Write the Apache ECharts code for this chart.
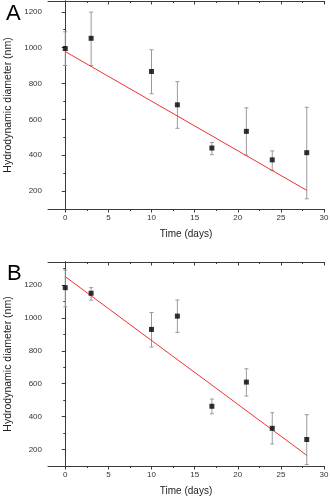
<!DOCTYPE html>
<html><head><meta charset="utf-8">
<script src="https://cdn.jsdelivr.net/npm/echarts@6/dist/echarts.min.js"></script>
<style>html,body{margin:0;padding:0;background:#fff}#c{width:330px;height:499px}</style>
</head><body><div id="c"></div>
<script>
// Data
var days = [0, 3, 10, 13, 17, 21, 24, 28];
var meanA = [995, 1052, 867, 681, 440, 533, 374, 414];
var lowA  = [900, 900, 743, 550, 403, 400, 315, 157];
var highA = [1088, 1198, 988, 810, 471, 664, 424, 667];
var fitA  = [[0, 978], [28, 204]];

var meanB = [1184, 1150, 930, 1011, 463, 610, 329, 261];
var lowB  = [1068, 1108, 823, 912, 417, 525, 234, 109];
var highB = [1291, 1184, 1033, 1109, 507, 691, 424, 412];
var fitB  = [[0, 1251], [28, 165]];

var xMajor = [0, 5, 10, 15, 20, 25, 30];
var xMinor = [2.5, 7.5, 12.5, 17.5, 22.5, 27.5];
var yMajor = [200, 400, 600, 800, 1000, 1200];
var yMinorA = [100, 300, 500, 700, 900, 1100];
var yMinorB = [100, 300, 500, 700, 900, 1100, 1300];

var FONT = 'Liberation Sans, Arial, sans-serif';
var AX = '#3a3a3a';
function plain(v) { return String(v); }

var chart = echarts.init(document.getElementById('c'));

function xAxes(grid, min, max) {
  var base = {gridIndex: grid, type: 'value', min: min, max: max, splitLine: {show: false}};
  return [
    Object.assign({}, base, {position: 'bottom',
      name: 'Time (days)', nameLocation: 'middle', nameGap: 20,
      nameTextStyle: {fontFamily: FONT, fontSize: 10, color: '#222'},
      axisLine: {show: true, lineStyle: {color: AX, width: 1}},
      axisTick: {show: true, inside: false, length: 3.5, customValues: xMajor, lineStyle: {color: AX}},
      axisLabel: {show: true, customValues: xMajor, margin: 5, formatter: plain, fontFamily: FONT, fontSize: 8, color: '#333'}}),
    Object.assign({}, base, {position: 'bottom',
      axisLine: {show: false},
      axisTick: {show: true, inside: false, length: 2, customValues: xMinor, lineStyle: {color: AX}},
      axisLabel: {show: false}}),
    Object.assign({}, base, {position: 'top',
      axisLine: {show: true, lineStyle: {color: AX, width: 1}},
      axisTick: {show: true, inside: true, length: 3.5, customValues: xMajor, lineStyle: {color: AX}},
      axisLabel: {show: false}}),
    Object.assign({}, base, {position: 'top',
      axisLine: {show: false},
      axisTick: {show: true, inside: true, length: 2, customValues: xMinor, lineStyle: {color: AX}},
      axisLabel: {show: false}})
  ];
}
function yAxes(grid, min, max, minor) {
  var base = {gridIndex: grid, type: 'value', min: min, max: max, splitLine: {show: false}};
  return [
    Object.assign({}, base, {position: 'left',
      name: 'Hydrodynamic diameter (nm)', nameLocation: 'middle', nameGap: 28, nameRotate: 90,
      nameTextStyle: {fontFamily: FONT, fontSize: 10.5, color: '#222'},
      axisLine: {show: true, lineStyle: {color: AX, width: 1}},
      axisTick: {show: true, inside: false, length: 3.5, customValues: yMajor, lineStyle: {color: AX}},
      axisLabel: {show: true, customValues: yMajor, margin: 6, formatter: plain, fontFamily: FONT, fontSize: 8, color: '#333'}}),
    Object.assign({}, base, {position: 'left',
      axisLine: {show: false},
      axisTick: {show: true, inside: false, length: 2, customValues: minor, lineStyle: {color: AX}},
      axisLabel: {show: false}}),
    Object.assign({}, base, {position: 'right',
      axisLine: {show: true, lineStyle: {color: AX, width: 1}},
      axisTick: {show: false}, axisLabel: {show: false}})
  ];
}

function errSeries(xi, yi, low, high) {
  var data = days.map(function (d, i) { return [d, low[i], high[i]]; });
  return {
    type: 'custom', xAxisIndex: xi, yAxisIndex: yi, data: data, z: 2,
    renderItem: function (params, api) {
      var p1 = api.coord([api.value(0), api.value(1)]);
      var p2 = api.coord([api.value(0), api.value(2)]);
      var w = 2;
      var st = {stroke: '#9a9a9a', lineWidth: 1};
      return {type: 'group', children: [
        {type: 'line', shape: {x1: p1[0], y1: p1[1], x2: p2[0], y2: p2[1]}, style: st},
        {type: 'line', shape: {x1: p1[0] - w, y1: p1[1], x2: p1[0] + w, y2: p1[1]}, style: st},
        {type: 'line', shape: {x1: p2[0] - w, y1: p2[1], x2: p2[0] + w, y2: p2[1]}, style: st}
      ]};
    }
  };
}
function pts(xi, yi, mean) {
  return {type: 'scatter', xAxisIndex: xi, yAxisIndex: yi, symbol: 'rect', symbolSize: 5,
    itemStyle: {color: '#000'}, z: 4,
    data: days.map(function (d, i) { return [d, mean[i]]; })};
}
function fit(xi, yi, f) {
  return {type: 'line', xAxisIndex: xi, yAxisIndex: yi, data: f, symbol: 'none', z: 3,
    lineStyle: {color: '#f03030', width: 1}};
}

var xs = xAxes(0, -2, 30).concat(xAxes(1, -2, 30));
var ys = yAxes(0, 100, 1260, yMinorA).concat(yAxes(1, 100, 1340, yMinorB));

chart.setOption({
  animation: false,
  backgroundColor: '#fff',
  title: [
    {text: 'A', left: 1, top: -2, textStyle: {fontFamily: FONT, fontSize: 22, fontWeight: 'normal', color: '#000'}},
    {text: 'B', left: 2, top: 258, textStyle: {fontFamily: FONT, fontSize: 22, fontWeight: 'normal', color: '#000'}}
  ],
  grid: [
    {left: 48, right: 6, top: 1, height: 208, containLabel: false, outerBoundsMode: 'none'},
    {left: 48, right: 6, top: 262, height: 204, containLabel: false, outerBoundsMode: 'none'}
  ],
  xAxis: xs,
  yAxis: ys,
  series: [
    errSeries(0, 0, lowA, highA), fit(0, 0, fitA), pts(0, 0, meanA),
    errSeries(4, 3, lowB, highB), fit(4, 3, fitB), pts(4, 3, meanB)
  ]
});
</script></body></html>
